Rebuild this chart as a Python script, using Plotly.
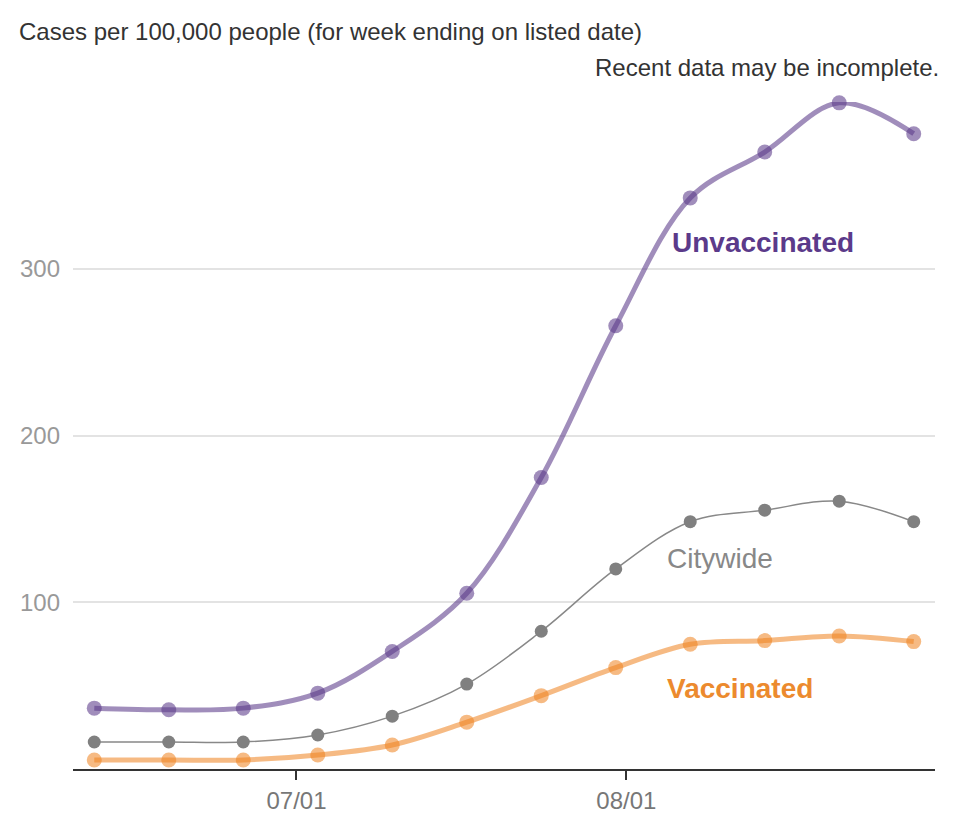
import plotly.graph_objects as go

# week ending dates
dates = ['2021-06-12', '2021-06-19', '2021-06-26', '2021-07-03', '2021-07-10', '2021-07-17',
         '2021-07-24', '2021-07-31', '2021-08-07', '2021-08-14', '2021-08-21', '2021-08-28']

unvaccinated = [36.5, 35.5, 36.5, 45.5, 70.5, 105.4, 174.8, 265.8, 342.5, 370.0, 399.5, 381.0]
citywide = [16.2, 16.2, 16.2, 20.4, 31.7, 50.9, 82.6, 120.0, 148.3, 155.2, 160.6, 148.3]
vaccinated = [5.4, 5.4, 5.4, 8.4, 14.4, 28.1, 44.0, 60.8, 74.8, 77.0, 79.8, 76.4]

y_ticks = [100, 200, 300]
x_ticks = ['2021-07-01', '2021-08-01']
x_ticklabels = ['07/01', '08/01']

FONT = 'Liberation Sans, Arial, Helvetica, sans-serif'

fig = go.Figure()

fig.add_trace(go.Scatter(
    x=dates, y=vaccinated, mode='lines+markers', line_shape='spline',
    line=dict(color='rgba(239,130,30,0.55)', width=5),
    marker=dict(color='rgba(239,130,30,0.55)', size=15),
    cliponaxis=False, hoverinfo='skip'))

fig.add_trace(go.Scatter(
    x=dates, y=citywide, mode='lines+markers', line_shape='spline',
    line=dict(color='#888888', width=1.5),
    marker=dict(color='#808080', size=13),
    cliponaxis=False, hoverinfo='skip'))

fig.add_trace(go.Scatter(
    x=dates, y=unvaccinated, mode='lines+markers', line_shape='spline',
    line=dict(color='rgba(91,58,138,0.58)', width=5),
    marker=dict(color='rgba(91,58,138,0.58)', size=15),
    cliponaxis=False, hoverinfo='skip'))

# series labels
labels = [
    ('Unvaccinated', '2021-08-05 02:00', 316, '#5b3a8a', True),
    ('Citywide', '2021-08-04 16:00', 126, '#888888', False),
    ('Vaccinated', '2021-08-04 14:00', 48, '#ec8a2e', True),
]
for text, lx, ly, col, bold in labels:
    fig.add_annotation(
        x=lx, y=ly, xref='x', yref='y', xanchor='left', yanchor='middle',
        text='<b>%s</b>' % text if bold else text, showarrow=False,
        font=dict(family=FONT, size=28, color=col))

fig.add_annotation(
    x=-0.065, y=1.105, xref='paper', yref='paper', xanchor='left', yanchor='middle',
    text='Cases per 100,000 people (for week ending on listed date)', showarrow=False,
    font=dict(family=FONT, size=24, color='#333333'))
fig.add_annotation(
    x=1.007, y=1.051, xref='paper', yref='paper', xanchor='right', yanchor='middle',
    text='Recent data may be incomplete.', showarrow=False,
    font=dict(family=FONT, size=24, color='#333333'))

# page body has an 8px margin, so the figure is sized to fit inside the window
fig.update_layout(
    width=952, height=826,
    margin=dict(l=63, r=25, t=94, b=65),
    plot_bgcolor='white', paper_bgcolor='white',
    showlegend=False,
    font=dict(family=FONT),
    xaxis=dict(
        type='date', range=['2021-06-10', '2021-08-30'],
        tickvals=x_ticks, ticktext=x_ticklabels,
        showgrid=False, zeroline=False,
        showline=True, linecolor='#333333', linewidth=2,
        ticks='outside', ticklen=9, tickcolor='#333333', tickwidth=2,
        tickfont=dict(size=24, color='#777777'),
    ),
    yaxis=dict(
        range=[0, 400], tickvals=y_ticks,
        showgrid=True, gridcolor='#e3e3e3', gridwidth=1.5,
        zeroline=False, showline=False, ticks='',
        ticklabelstandoff=12,
        tickfont=dict(size=24, color='#999999'),
    ),
)

fig.write_html('out.html')
